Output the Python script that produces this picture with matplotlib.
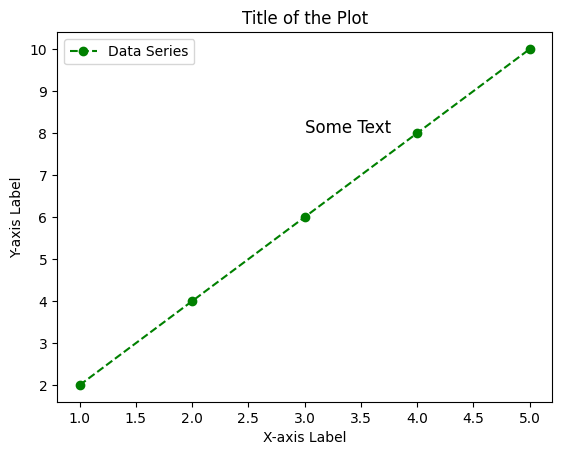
import matplotlib.pyplot as plt

x_values = [1, 2, 3, 4, 5]
y_values = [2, 4, 6, 8, 10]

fig, ax = plt.subplots(figsize=(5.62, 4.55), dpi=100)
fig.subplots_adjust(left=0.1015, right=0.9825, top=0.929, bottom=0.1165)

ax.plot(x_values, y_values, color='g', linestyle='--', marker='o', label='Data Series')
ax.text(3, 8, 'Some Text', fontsize=12)

ax.set_title('Title of the Plot')
ax.set_xlabel('X-axis Label')
ax.set_ylabel('Y-axis Label')
ax.legend(loc='upper left')

fig.savefig('out.png', dpi=100)
